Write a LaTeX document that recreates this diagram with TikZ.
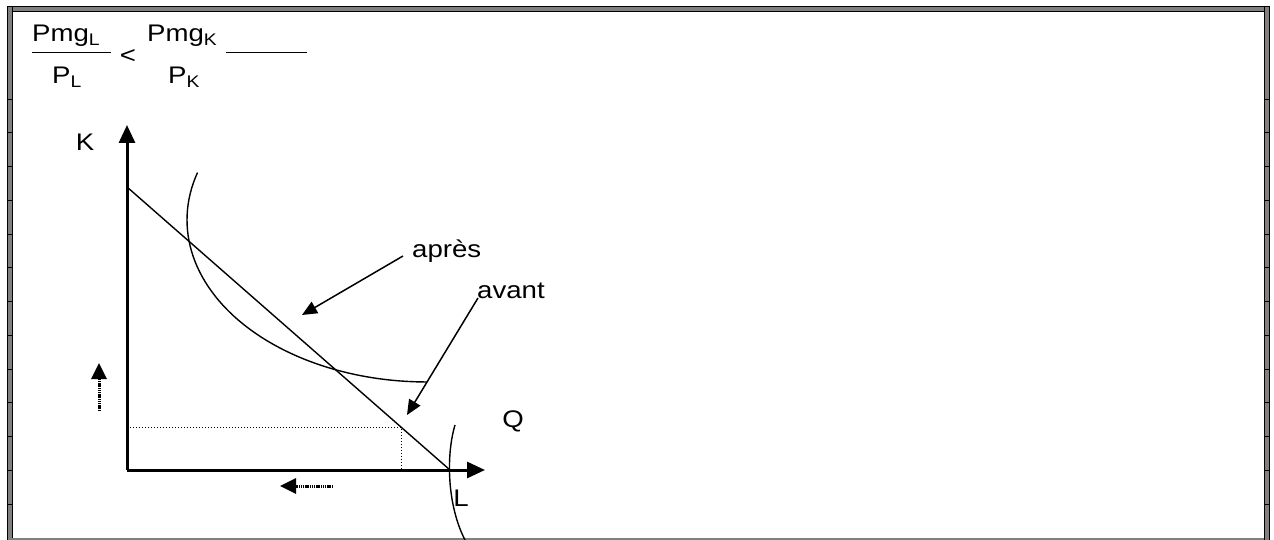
\documentclass[tikz,border=0pt]{standalone}
\usepackage{fontspec}
\setmainfont{Liberation Sans}
\usetikzlibrary{arrows.meta}
\newcommand{\stretchtxt}[1]{\scalebox{1.15}[1]{#1}}
\tikzset{
	lbl/.style={inner sep=0pt, font=\fontsize{24}{28}\selectfont},
	framebar/.style={draw=black, fill=gray, line width=0.8pt},
	axis/.style={line width=3pt, -{Triangle[length=18pt,width=16pt]}},
	curve/.style={line width=1.4pt},
	dotline/.style={line width=1pt, dash pattern=on 1pt off 2pt},
	labelarrow/.style={line width=1.5pt, -{Triangle[length=15pt,width=13pt]}},
	shiftarrow/.style={line width=3pt, dash pattern=on 1.5pt off 0.7pt, -{Triangle[length=16pt,width=15pt]}}
}
\begin{document}
\begin{tikzpicture}[x=1pt, y=-1pt]
	\useasboundingbox (0,0) rectangle (1274,540);
	\fill[white] (0,0) rectangle (1274,540);
	\draw[framebar] (7,6) rectangle (1269,11);
	\draw[framebar] (7,6) rectangle (12,540);
	\draw[framebar] (1264,6) rectangle (1269,540);
	\draw[gray, line width=1.5pt] (12,539) -- (1264,539);
	\foreach \k in {0,...,12} {
		\draw[line width=0.8pt] (7,99+33.75*\k) -- (12,99+33.75*\k);
		\draw[line width=0.8pt] (1264,99+33.75*\k) -- (1269,99+33.75*\k);
	}
	\node[lbl, anchor=base west] (pmgl) at (32,42) {\stretchtxt{Pmg\textsubscript{L}}};
	\node[lbl, anchor=base west] (pl) at (52,83.5) {\stretchtxt{P\textsubscript{L}}};
	\draw[line width=1pt] (32,53) -- (111,53);
	\node[lbl] (lt) at (128,57) {\stretchtxt{<}};
	\node[lbl, anchor=base west] (pmgk) at (147,42) {\stretchtxt{Pmg\textsubscript{K}}};
	\node[lbl, anchor=base west] (pk) at (168,83.5) {\stretchtxt{P\textsubscript{K}}};
	\draw[line width=1pt] (226,53) -- (307,53);
	\coordinate (O) at (127,470);
	\coordinate (Ktop) at (127,125);
	\coordinate (Lend) at (485,470);
	\draw[axis] (O) -- (Ktop);
	\draw[axis] (O) -- (Lend);
	\node[lbl] (K) at (85,142) {\stretchtxt{K}};
	\node[lbl] (L) at (461,498) {\stretchtxt{L}};
	\node[lbl] (Q) at (513,421) {\stretchtxt{Q}};
	\coordinate (Kmax) at (127,187);
	\coordinate (Lmax) at (450,470);
	\draw[curve] (Kmax) -- (Lmax);
	\coordinate (Kd) at (127,427);
	\coordinate (E) at (401,427);
	\coordinate (Ld) at (401,470);
	\draw[dotline] (Kd) -- (E) -- (Ld);
	\draw[curve] (197.5,172.6) arc[start angle=197, end angle=90, x radius=240, y radius=162];
	\draw[curve] (455,425) .. controls (446,455) and (447,505) .. (465,540);
	\node[lbl, anchor=base west] (apres) at (412,258) {\stretchtxt{après}};
	\node[lbl, anchor=base west] (avant) at (477,298) {\stretchtxt{avant}};
	\coordinate (tipA) at (302,315);
	\coordinate (tipB) at (407,415);
	\draw[labelarrow] ([xshift=-9pt,yshift=2pt]apres.base west) -- (tipA);
	\draw[labelarrow] ([xshift=1pt]avant.base west) -- (tipB);
	\coordinate (Kup0) at (99,411);
	\coordinate (Kup1) at (99,363);
	\draw[shiftarrow] (Kup0) -- (Kup1);
	\coordinate (Lleft0) at (333,486);
	\coordinate (Lleft1) at (280,486);
	\draw[shiftarrow] (Lleft0) -- (Lleft1);
\end{tikzpicture}
\end{document}
